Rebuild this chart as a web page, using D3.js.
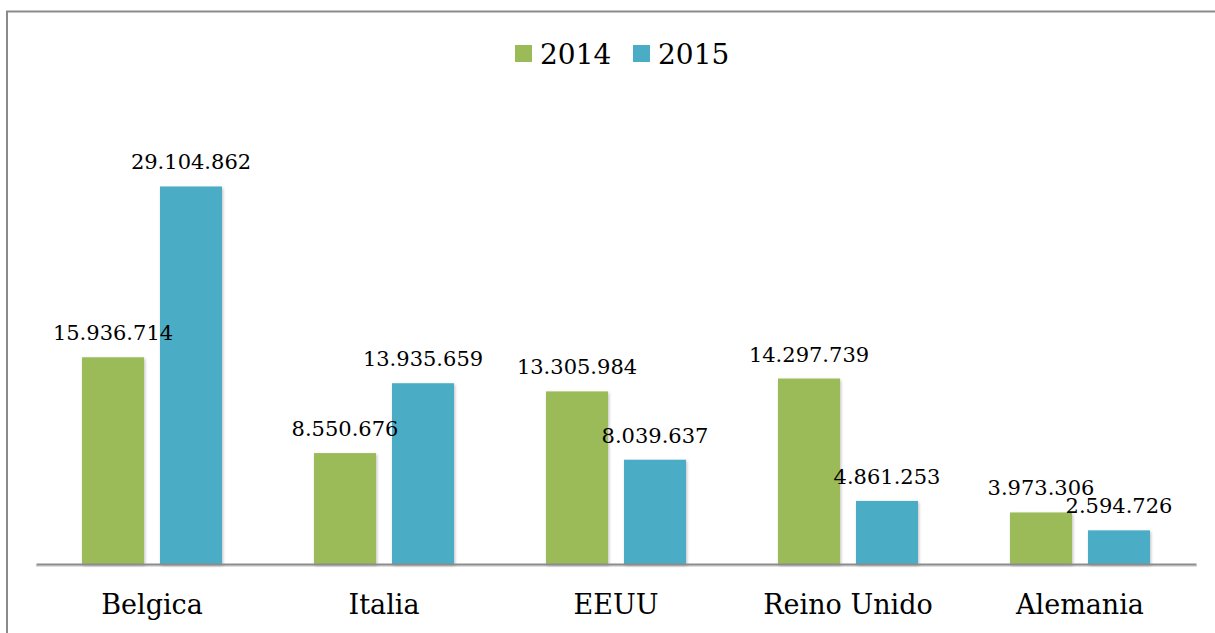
<!DOCTYPE html>
<html>
<head>
<meta charset="utf-8">
<script src="https://cdn.jsdelivr.net/npm/d3@7"></script>
<style>
  body { margin: 0; background: #fff; }
  svg { display: block; }
  text { font-family: "DejaVu Serif", serif; fill: #000; }
</style>
</head>
<body>
<div id="chart"></div>
<script>
// data
var paises = ["Belgica", "Italia", "EEUU", "Reino Unido", "Alemania"];
var series = ["2014", "2015"];
var valores2014 = [15936714, 8550676, 13305984, 14297739, 3973306];
var valores2015 = [29104862, 13935659, 8039637, 4861253, 2594726];
var colores = ["#9bbb59", "#4bacc6"];

var width = 1215, height = 633;

var svg = d3.select("#chart").append("svg")
  .attr("width", width)
  .attr("height", height);

// soft shadow like the office chart
var defs = svg.append("defs");
var f = defs.append("filter").attr("id", "sombra")
  .attr("x", "-20%").attr("y", "-10%").attr("width", "140%").attr("height", "130%");
f.append("feDropShadow")
  .attr("dx", 1).attr("dy", 1.5).attr("stdDeviation", 1.5)
  .attr("flood-color", "#000").attr("flood-opacity", 0.25);

// outer frame
svg.append("rect")
  .attr("x", 7).attr("y", 11.5)
  .attr("width", 1220).attr("height", 640)
  .attr("fill", "none")
  .attr("stroke", "#8a8a8a")
  .attr("stroke-width", 2);

var x0 = d3.scaleBand()
  .domain(paises)
  .range([36, 1196]);

var x1 = d3.scaleBand()
  .domain(series)
  .range([0, 140])
  .paddingInner(16 / 78);

var y = d3.scaleLinear()
  .domain([0, 35000000])
  .range([564, 110]);

var datos = paises.map(function(p, i) {
  return { pais: p, vals: [valores2014[i], valores2015[i]] };
});

var grupos = svg.selectAll(".grupo")
  .data(datos)
  .enter().append("g")
  .attr("class", "grupo")
  .attr("transform", function(d) {
    return "translate(" + (x0(d.pais) + x0.bandwidth() / 2 - 70) + ",0)";
  });

grupos.selectAll("rect")
  .data(function(d) { return d.vals.map(function(v, j) { return { s: series[j], v: v, j: j }; }); })
  .enter().append("rect")
  .attr("x", function(d) { return x1(d.s); })
  .attr("y", function(d) { return y(d.v); })
  .attr("width", x1.bandwidth())
  .attr("height", function(d) { return y(0) - y(d.v); })
  .attr("fill", function(d) { return colores[d.j]; })
  .attr("filter", "url(#sombra)");

// axis line (shadow drawn as a faint second line)
svg.append("line")
  .attr("x1", 36).attr("x2", 1197)
  .attr("y1", y(0) + 2).attr("y2", y(0) + 2)
  .attr("stroke", "#000").attr("stroke-opacity", 0.12)
  .attr("stroke-width", 2);

var xAxis = d3.axisBottom(x0).tickSize(0).tickPadding(31);
var gx = svg.append("g")
  .attr("transform", "translate(0," + y(0) + ")")
  .call(xAxis);
gx.attr("font-family", null);
gx.select(".domain")
  .attr("stroke", "#8c8c8c")
  .attr("stroke-width", 2);
gx.selectAll(".tick text")
  .style("font-size", "27px")
  .attr("fill", "#000")
  .attr("dy", "0.71em");

// value labels on top of everything
var fmt = function(v) { return d3.format(",")(v).replace(/,/g, "."); };
grupos.selectAll(".etiqueta")
  .data(function(d) { return d.vals.map(function(v, j) { return { s: series[j], v: v }; }); })
  .enter().append("text")
  .attr("class", "etiqueta")
  .attr("x", function(d) { return x1(d.s) + x1.bandwidth() / 2; })
  .attr("y", function(d) { return y(d.v) - 17; })
  .attr("text-anchor", "middle")
  .style("font-size", "21px")
  .text(function(d) { return fmt(d.v); });

// legend
var leyendaX = [515, 633];
var ley = svg.selectAll(".ley")
  .data(series)
  .enter().append("g")
  .attr("class", "ley")
  .attr("transform", function(d, i) { return "translate(" + leyendaX[i] + ",45)"; });
ley.append("rect")
  .attr("width", 17).attr("height", 17)
  .attr("fill", function(d, i) { return colores[i]; });
ley.append("text")
  .attr("x", 25)
  .attr("y", 19)
  .style("font-size", "28px")
  .text(function(d) { return d; });
</script>
</body>
</html>
